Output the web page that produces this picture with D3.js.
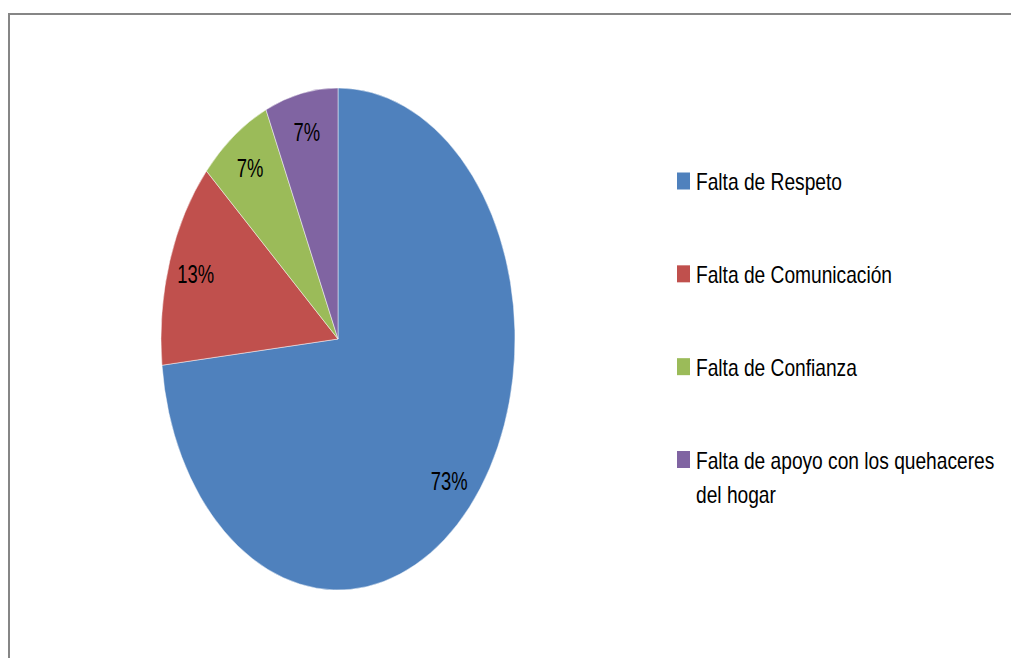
<!DOCTYPE html>
<html>
<head>
<meta charset="utf-8">
<script src="https://cdn.jsdelivr.net/npm/d3@7"></script>
<style>
  body { margin: 0; background: #fff; }
  text { font-family: "Liberation Sans", Arial, sans-serif; fill: #000; }
</style>
</head>
<body>
<div id="chart"></div>
<script>
var width = 1011, height = 658;

// data (counts give 73 / 13 / 7 / 7 %)
var categories = ["Falta de Respeto", "Falta de Comunicación", "Falta de Confianza", "Falta de apoyo con los quehaceres del hogar"];
var counts = [11, 2, 1, 1];
var pctLabels = ["73%", "13%", "7%", "7%"];
var legendLines = [["Falta de Respeto"], ["Falta de Comunicación"], ["Falta de Confianza"], ["Falta de apoyo con los quehaceres", "del hogar"]];
var colors = ["#4F81BD", "#C0504D", "#9BBB59", "#8064A2"];

var cx = 338, cy = 339;
var rx = 177, ry = 251;
// the original font is a condensed one, squeeze the text horizontally
var legSqueeze = 0.834, pctSqueeze = 0.71;

var svg = d3.select("#chart").append("svg")
    .attr("width", width)
    .attr("height", height);

// outer frame
svg.append("rect")
    .attr("x", 9)
    .attr("y", 14)
    .attr("width", width + 20)
    .attr("height", height + 20)
    .attr("fill", "#fff")
    .attr("stroke", "#868686")
    .attr("stroke-width", 2);

var data = categories.map(function(c, i) {
    return {name: c, value: counts[i], label: pctLabels[i], color: colors[i]};
});

var pie = d3.pie()
    .value(function(d) { return d.value; })
    .sort(null);

var arcs = pie(data);

var arc = d3.arc().innerRadius(0).outerRadius(ry);
var labelArc = d3.arc().innerRadius(ry * 0.845).outerRadius(ry * 0.845);

// the pie is stretched vertically in the original, so squash x
var gPie = svg.append("g")
    .attr("transform", "translate(" + cx + "," + cy + ") scale(" + (rx / ry) + ",1)");

gPie.selectAll("path")
    .data(arcs)
    .enter().append("path")
    .attr("d", arc)
    .attr("fill", function(d) { return d.data.color; })
    .attr("stroke", "#fff")
    .attr("stroke-width", 0.8)
    .attr("stroke-opacity", 0.6)
    .attr("vector-effect", "non-scaling-stroke");

svg.selectAll(".pct")
    .data(arcs)
    .enter().append("text")
    .attr("class", "pct")
    .attr("transform", function(d) {
        var c = labelArc.centroid(d);
        return "translate(" + (cx + c[0] * rx / ry) + "," + (cy + c[1]) + ") scale(" + pctSqueeze + ",1)";
    })
    .attr("text-anchor", "middle")
    .attr("dy", "0.36em")
    .style("font-size", "26px")
    .text(function(d) { return d.data.label; });

// legend
var legY = d3.scalePoint()
    .domain(categories)
    .range([181, 459.5]);

var leg = svg.selectAll(".leg")
    .data(data)
    .enter().append("g")
    .attr("class", "leg")
    .attr("transform", function(d) { return "translate(677," + legY(d.name) + ")"; });

leg.append("rect")
    .attr("x", 0)
    .attr("y", -8.5)
    .attr("width", 13)
    .attr("height", 17)
    .attr("fill", function(d) { return d.color; });

leg.append("text")
    .attr("transform", "translate(19,9) scale(" + legSqueeze + ",1)")
    .style("font-size", "23px")
    .selectAll("tspan")
    .data(function(d, i) { return legendLines[i]; })
    .enter().append("tspan")
    .attr("x", 0)
    .attr("dy", function(d, i) { return i === 0 ? 0 : 35; })
    .text(function(d) { return d; });
</script>
</body>
</html>
